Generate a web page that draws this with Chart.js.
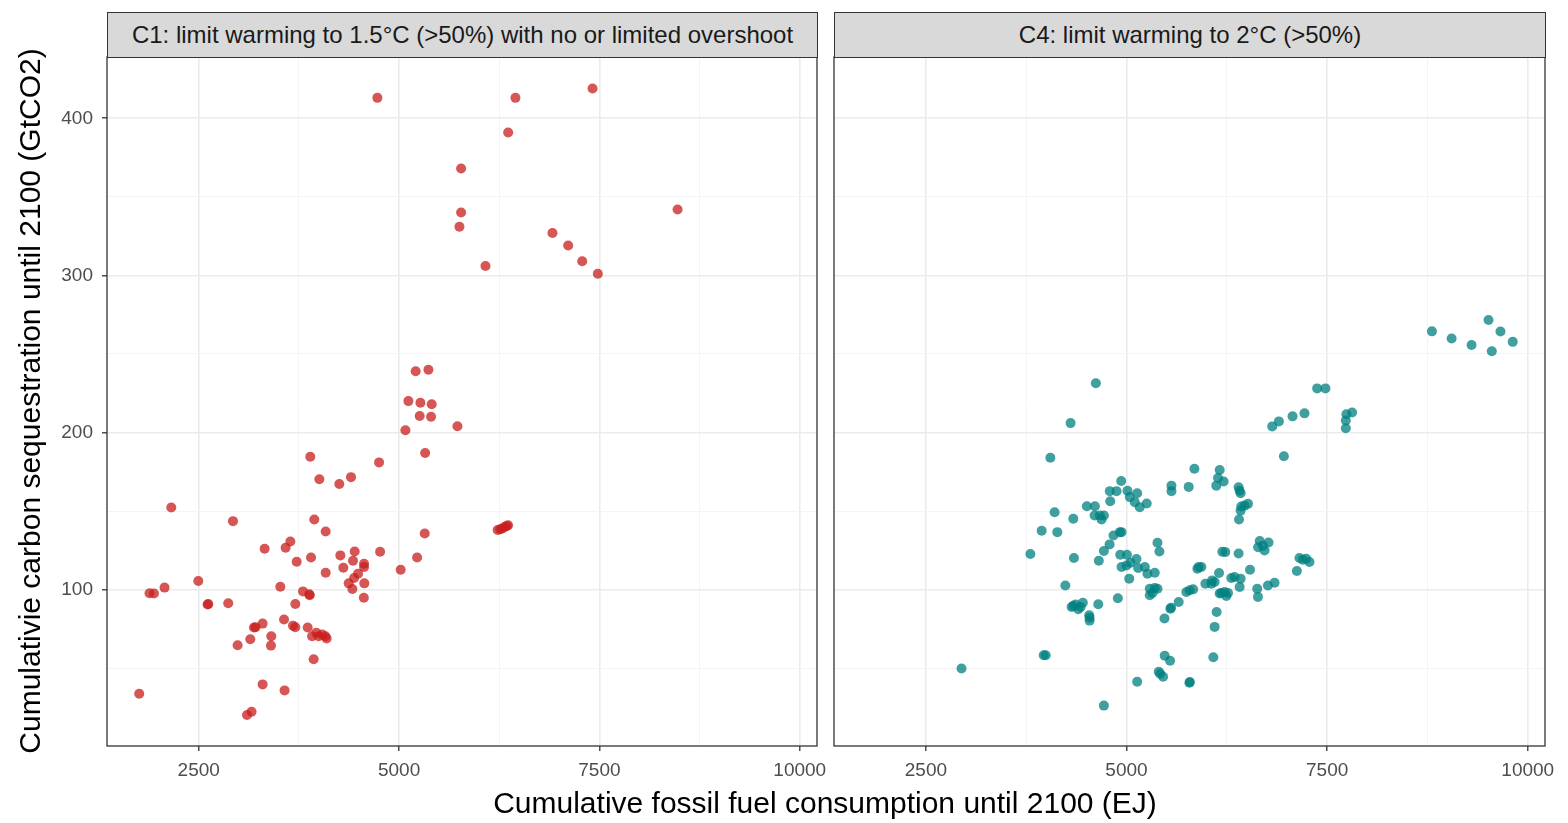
<!DOCTYPE html>
<html>
<head>
<meta charset="utf-8">
<title>Fossil fuel consumption vs carbon sequestration</title>
<script src="https://cdn.jsdelivr.net/npm/chart.js@4.4.1/dist/chart.umd.min.js"></script>
<style>
  body { margin: 0; background: #fff; font-family: "Liberation Sans", Arial, sans-serif; }
  #wrap { position: relative; width: 1568px; height: 823px; overflow: hidden; background: #fff; }
  canvas { position: absolute; top: 0; }
  .strip {
    position: absolute; top: 12px; height: 46px; box-sizing: border-box;
    border: 1.3px solid #333; background: #d9d9d9; color: #1a1a1a;
    font-size: 24px; line-height: 44px; text-align: center; white-space: nowrap;
  }
  .axis-title { position: absolute; color: #000; font-size: 30px; white-space: nowrap; text-align: center; }
  #ytitle { left: -370px; top: 384px; width: 800px; height: 34px; line-height: 34px; transform: rotate(-90deg); }
  #xtitle { left: 325px; top: 785px; width: 1000px; height: 36px; line-height: 36px; }
</style>
</head>
<body>
<div id="wrap">
  <canvas id="c1" width="850" height="823" style="left:0px"></canvas>
  <canvas id="c4" width="742" height="823" style="left:826px"></canvas>
  <div class="strip" style="left:107px; width:711px;">C1: limit warming to 1.5°C (&gt;50%) with no or limited overshoot</div>
  <div class="strip" style="left:834px; width:712px;">C4: limit warming to 2°C (&gt;50%)</div>
  <div class="axis-title" id="ytitle">Cumulativie carbon sequestration until 2100 (GtCO2)</div>
  <div class="axis-title" id="xtitle">Cumulative fossil fuel consumption until 2100 (EJ)</div>
</div>
<script>
// C1 scenarios: fossil fuel (EJ) and sequestration (GtCO2)
var c1Fossil = [4729, 6452, 7414, 6361, 5774, 5774, 5753, 6078, 6914, 7110, 7285, 7480, 8475,
  5207, 5366, 5116, 5266, 5407, 5257, 5399, 5079, 5728, 5325, 3892, 4750, 4005, 4254, 4400,
  2157, 2927, 3942, 4084, 5320, 6230, 6260, 6290, 6320, 6345, 6360,
  3322, 3584, 3643, 3722, 3901, 4267, 4446, 4425, 4763, 4563, 4563, 4304, 4084, 5020, 5225,
  4488, 4438, 4371, 4566, 4417, 4560, 2494, 2073, 1886, 1941, 3518, 3801, 3880, 3885,
  2619, 2610, 2868, 3705, 3564, 3297, 3209, 3189, 3676, 3705, 3859, 3967, 3914, 3996,
  4042, 4080, 4096, 3405, 3401, 3143, 2985, 3934, 3297, 3571, 1757, 3102, 3159];
var c1Seq = [413, 413, 419, 391, 368, 340, 331, 306, 327, 319, 309, 301, 342,
  239, 240, 220, 219, 218, 210.5, 210, 201.5, 204, 187, 184.6, 181, 170.3, 167.3, 171.6,
  152.3, 143.6, 144.6, 137, 135.7, 138, 138.5, 139, 140, 140.5, 141,
  126, 126.7, 130.7, 117.8, 120.5, 121.8, 124.3, 118.4, 124.1, 116.5, 114.4, 114, 110.8, 112.7, 120.5,
  110.2, 107.4, 104, 104, 100.4, 94.9, 105.5, 101.3, 97.7, 97.5, 101.9, 98.9, 97, 96.4,
  90.9, 90.5, 91.3, 90.9, 81, 78.4, 76.1, 75.9, 77.1, 76.1, 75.9, 72.5, 70.4, 70.4,
  71.4, 70.4, 68.9, 70.4, 64.4, 68.4, 64.6, 55.7, 39.7, 35.9, 33.8, 20.2, 22.3];

// C4 scenarios
var c4Fossil = [8806, 9051, 9300, 9511, 9660, 9552, 9813, 7376, 7479, 7218, 7811, 7740, 7733, 7733,
  7069, 6899, 6816, 6961, 5846, 6161, 6140, 6210, 6119, 5560, 5560, 5775, 6397, 6410, 6422,
  6430, 6471, 6514, 6422, 6402, 5012, 5041, 5133, 5103, 5165, 5252, 4938, 5386, 5410,
  6194, 6231, 6397, 6660, 6700, 6770, 6640, 6720, 5124, 7155, 7239,
  4618, 4303, 4051, 4934, 4792, 4876, 4797, 4506, 4606, 4602, 4668, 4718, 4689, 4104, 4337,
  3943, 4138, 4917, 4838, 4789, 4718, 3802, 4922, 5005, 4345, 4655, 4938, 5000, 5050, 5034,
  4238, 4892, 4337, 4366, 4456, 4399, 4428, 4316, 4648, 4536, 4540, 4540, 3968, 3993, 2944, 4718,
  5145, 5228, 5261, 5352, 5899, 5933, 5883, 6153, 6066, 5983, 6098, 6057, 6306, 6347, 6422, 6410,
  6539, 6182, 6223, 6265, 6244, 6161, 6629, 6638, 6762, 6845, 7123, 7197, 7280,
  5290, 5352, 5386, 5290, 5323, 5746, 5787, 5830, 5650, 5547, 5555, 5473, 6123, 6098, 6082,
  5476, 5543, 5402, 5420, 5456, 5133, 5784, 5790];
var c4Seq = [264.4, 259.8, 255.7, 271.6, 264.3, 251.7, 257.7, 228.1, 228.1, 212.2, 212.8, 211.6, 207.7, 202.7,
  210.3, 207.1, 203.9, 184.9, 177, 176.2, 171.1, 168.8, 166.2, 166.2, 162.7, 165.4, 165.2, 163, 161.4,
  152.9, 153.5, 154.6, 150.3, 144.6, 163, 158.9, 161.4, 155.7, 152.5, 154.8, 136.6, 129.8, 124.3,
  124.1, 123.9, 123, 131, 128, 130, 127, 125, 119.5, 120.1, 119.7,
  231.4, 206, 184, 169.2, 162.7, 162.7, 156.3, 153.1, 153.1, 147.2, 147.2, 147.2, 144.6, 149.3, 145.1,
  137.5, 136.6, 136.6, 134.5, 128.8, 124.6, 122.7, 122.2, 122.2, 120.1, 118.4, 114.4, 115.4, 117.1, 107,
  102.7, 94.5, 89.7, 90.5, 91.7, 87.5, 89, 89, 90.7, 83.7, 82.2, 80.3, 58.3, 58.3, 49.8, 26.2,
  113.8, 114.4, 110.2, 110.8, 114.4, 114.4, 113.3, 110.6, 105.9, 103.8, 104.9, 103.8, 107.4, 108.1, 107, 101.7,
  112.7, 97.9, 98.5, 97.9, 96, 97.5, 100.6, 95.4, 102.7, 104.4, 111.9, 119, 117.6,
  100.6, 101.1, 100.6, 96.4, 97.9, 98.5, 99.6, 100.2, 92.2, 87.9, 88.5, 81.6, 85.8, 76.3, 57,
  57.9, 54.7, 47.7, 46.5, 44.6, 41.4, 40.8, 41.2];

// shared axis ranges; grid positions (major ones get a label)
var xRange = [1355, 10215];
var yRange = [0.5, 439];
var xGrid = [2500, 3750, 5000, 6250, 7500, 8750, 10000];
var xLabels = [2500, 5000, 7500, 10000];
var yGrid = [50, 100, 150, 200, 250, 300, 350, 400];
var yLabels = [100, 200, 300, 400];

var fontFamily = '"Liberation Sans", Arial, sans-serif';

function toPoints(xs, ys) {
  var pts = [];
  for (var i = 0; i < xs.length; i++) {
    pts.push({x: xs[i], y: ys[i]});
  }
  return pts;
}

// dark frame around each panel, like ggplot's theme_bw
var panelFrame = {
  id: 'panelFrame',
  afterDraw: function(chart) {
    var a = chart.chartArea;
    var ctx = chart.ctx;
    ctx.save();
    ctx.strokeStyle = '#333333';
    ctx.lineWidth = 1.3;
    ctx.strokeRect(a.left, a.top, a.right - a.left, a.bottom - a.top);
    ctx.restore();
  }
};

function gridStyle(labels) {
  function isMajor(c) { return c.tick && labels.indexOf(c.tick.value) !== -1; }
  return {
    color: function(c) { return isMajor(c) ? '#ebebeb' : '#f3f3f3'; },
    lineWidth: function(c) { return isMajor(c) ? 1.6 : 0.9; },
    tickColor: function(c) { return isMajor(c) ? '#333333' : 'rgba(0,0,0,0)'; },
    tickLength: 5,
    tickWidth: 1.3
  };
}

function fixedTicks(values) {
  return function(scale) {
    scale.ticks = values.map(function(v) { return {value: v}; });
  };
}

function makePanel(id, xs, ys, colour, showY, padRight, yWidth) {
  var yGridStyle = gridStyle(yLabels);
  if (!showY) {
    yGridStyle.drawTicks = false;
  }
  return new Chart(document.getElementById(id), {
    type: 'scatter',
    data: {
      datasets: [{
        data: toPoints(xs, ys),
        backgroundColor: colour,
        borderWidth: 0,
        pointRadius: 5,
        pointHoverRadius: 5
      }]
    },
    options: {
      responsive: false,
      animation: false,
      events: [],
      layout: {autoPadding: false, padding: {top: 57, right: padRight, bottom: 0, left: 0}},
      plugins: {legend: {display: false}, tooltip: {enabled: false}},
      scales: {
        x: {
          type: 'linear',
          min: xRange[0],
          max: xRange[1],
          grid: gridStyle(xLabels),
          border: {display: false},
          afterBuildTicks: fixedTicks(xGrid),
          ticks: {
            autoSkip: false,
            maxRotation: 0,
            padding: 8,
            color: '#4d4d4d',
            font: {family: fontFamily, size: 19},
            callback: function(v) { return xLabels.indexOf(v) !== -1 ? String(v) : ''; }
          },
          afterFit: function(s) { s.height = 77; }
        },
        y: {
          type: 'linear',
          min: yRange[0],
          max: yRange[1],
          grid: yGridStyle,
          border: {display: false},
          afterBuildTicks: fixedTicks(yGrid),
          ticks: {
            display: showY,
            autoSkip: false,
            padding: 9,
            color: '#4d4d4d',
            font: {family: fontFamily, size: 19},
            callback: function(v) { return yLabels.indexOf(v) !== -1 ? String(v) : ''; }
          },
          afterFit: function(s) { s.width = yWidth; }
        }
      }
    },
    plugins: [panelFrame]
  });
}

makePanel('c1', c1Fossil, c1Seq, 'rgba(200, 30, 30, 0.75)', true, 33, 107);
makePanel('c4', c4Fossil, c4Seq, 'rgba(0, 128, 128, 0.75)', false, 23, 8);
</script>
</body>
</html>
